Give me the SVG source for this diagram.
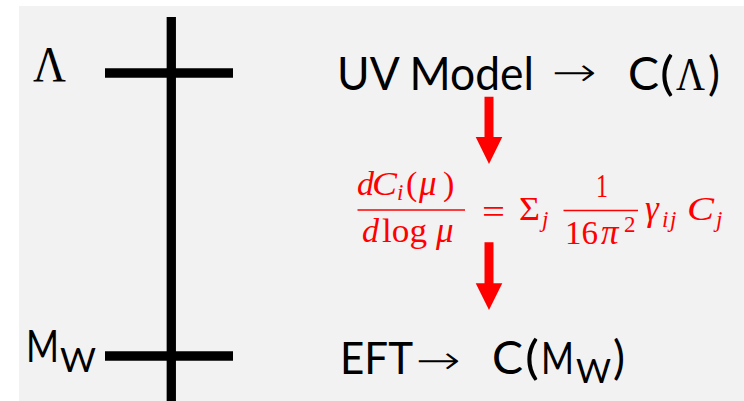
<svg xmlns="http://www.w3.org/2000/svg" width="744" height="401" viewBox="0 0 744 401">
<style>
.sans{font-family:Lato,"Gill Sans","Noto Sans",sans-serif;fill:#000}
.ser{font-family:"Liberation Serif","Times New Roman",serif;fill:#000}
.arr{font-family:"DejaVu Sans",sans-serif;fill:#000;font-size:40px;font-weight:200}
.m{font-family:"Liberation Serif","Times New Roman",serif;fill:#ff0000;font-size:34px}
.g{font-family:"Liberation Serif","Times New Roman",serif;font-style:italic;fill:#ff0000;font-size:35px}
.it{font-style:italic}
.sub{font-size:23px}
.bar{stroke:#000;stroke-width:9.3}
.red{fill:#ff0000}
</style>
<rect x="0" y="0" width="744" height="401" fill="#ffffff"/>
<rect x="19" y="6" width="725" height="395" fill="#f2f2f2"/>
<g id="scale">
<line class="bar" x1="171.3" y1="17" x2="171.3" y2="401"/>
<line class="bar" x1="105" y1="73" x2="233" y2="73"/>
<line class="bar" x1="105" y1="356" x2="233" y2="356"/>
</g>
<g id="label-lambda"><text class="ser" x="33" y="81" font-size="50" textLength="33" lengthAdjust="spacingAndGlyphs">Λ</text></g>
<g id="label-mw">
<text class="sans" x="26" y="362" font-size="45" textLength="33" lengthAdjust="spacingAndGlyphs">M</text>
<text class="sans" x="60" y="372" font-size="32" textLength="36" lengthAdjust="spacingAndGlyphs">W</text>
</g>
<g id="uv-model">
<text class="sans" x="337" y="90" font-size="47" textLength="197" lengthAdjust="spacingAndGlyphs">UV Model</text>
<text class="arr" transform="translate(552,74) scale(1.34,1)" x="0" y="12">→</text>
<text class="sans" x="628" y="90" font-size="47" textLength="31" lengthAdjust="spacingAndGlyphs">C</text>
<text class="sans" x="660" y="90" font-size="47" textLength="14" lengthAdjust="spacingAndGlyphs">(</text>
<text class="ser" x="676" y="90" font-size="46" textLength="29" lengthAdjust="spacingAndGlyphs">Λ</text>
<text class="sans" x="708" y="90" font-size="47" textLength="12" lengthAdjust="spacingAndGlyphs">)</text>
</g>
<g id="equation">
<text class="m it" x="357" y="195">d</text>
<text class="m it" x="372" y="195" textLength="25" lengthAdjust="spacingAndGlyphs">C</text>
<text class="m it sub" x="397" y="200">i</text>
<text class="m" x="406" y="195">(</text>
<text class="g" x="419" y="195">μ</text>
<text class="m" x="443" y="195">)</text>
<line x1="357.5" y1="210" x2="465" y2="210" stroke="#ff0000" stroke-width="1.5"/>
<text class="m it" x="362" y="242">d</text>
<text class="m" x="382" y="242" textLength="45" lengthAdjust="spacingAndGlyphs">log</text>
<text class="g" x="436" y="242">μ</text>
<text class="m" x="482" y="223" textLength="23" lengthAdjust="spacingAndGlyphs">=</text>
<text class="m" x="519" y="220" textLength="21" lengthAdjust="spacingAndGlyphs">Σ</text>
<text class="m it sub" x="542" y="227">j</text>
<text class="m" x="596" y="196.5" textLength="12" lengthAdjust="spacingAndGlyphs">1</text>
<line x1="563.5" y1="210.5" x2="638" y2="210.5" stroke="#ff0000" stroke-width="1.5"/>
<text class="m" x="565" y="244" textLength="33" lengthAdjust="spacingAndGlyphs">16</text>
<text class="g" x="601" y="244">π</text>
<text class="m sub" x="624" y="232">2</text>
<text class="g" x="645" y="220">γ</text>
<text class="m it sub" x="662" y="227">i</text>
<text class="m it sub" x="670" y="227">j</text>
<text class="m it" x="687" y="220" textLength="27" lengthAdjust="spacingAndGlyphs">C</text>
<text class="m it sub" x="716" y="227">j</text>
</g>
<g id="eft">
<text class="sans" x="340" y="374" font-size="45" textLength="73" lengthAdjust="spacingAndGlyphs">EFT</text>
<text class="arr" transform="translate(416,362) scale(1.34,1)" x="0" y="12">→</text>
<text class="sans" x="492" y="374" font-size="46" textLength="31" lengthAdjust="spacingAndGlyphs">C</text>
<text class="sans" x="525" y="374" font-size="46" textLength="14" lengthAdjust="spacingAndGlyphs">(</text>
<text class="sans" x="541" y="374" font-size="45" textLength="33" lengthAdjust="spacingAndGlyphs">M</text>
<text class="sans" x="576" y="383" font-size="32" textLength="35" lengthAdjust="spacingAndGlyphs">W</text>
<text class="sans" x="613" y="374" font-size="46" textLength="12" lengthAdjust="spacingAndGlyphs">)</text>
</g>
<g id="connectors">
<polygon class="red" points="484.5,96.7 493.5,96.7 493.5,137 502.3,137 489,164 475.7,137 484.5,137"/>
<polygon class="red" points="484.5,242.3 493.5,242.3 493.5,283.3 502.3,283.3 489,310 475.7,283.3 484.5,283.3"/>
</g>
</svg>
